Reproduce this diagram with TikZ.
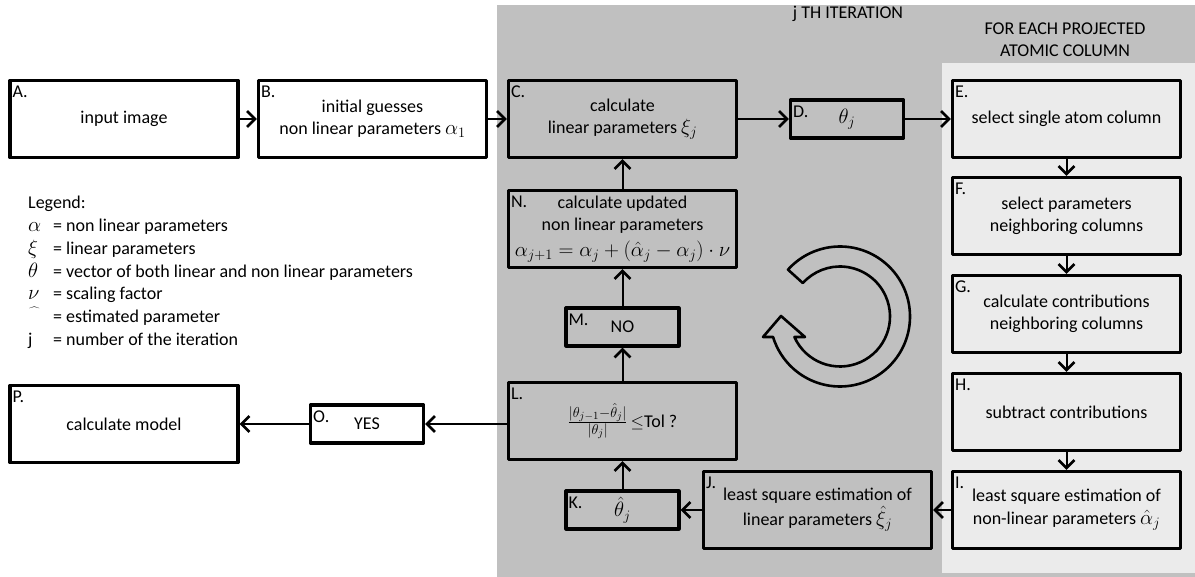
\documentclass[tikz,border=0pt]{standalone}
\usepackage{fontspec}
\setmainfont{Carlito}
\usetikzlibrary{arrows.meta}
\definecolor{panelgray}{HTML}{C0C0C0}
\definecolor{panellight}{HTML}{EBEBEB}
\newcommand{\legsym}[1]{\makebox[25pt][l]{#1}}
\newcommand{\mth}[1]{{\fontsize{19.5}{22}\selectfont$#1$}}

\begin{document}
\begin{tikzpicture}[x=1pt, y=-1pt, line join = round, line cap = round,
		font=\fontsize{18}{22}\selectfont,
		bigbox/.style={draw, line width=3.2pt, minimum width=228pt, minimum height=77pt, align=center, inner sep=0pt},
		smallbox/.style={bigbox, minimum width=113pt, minimum height=38pt},
		letter/.style={label={[anchor=north west, inner sep=0pt, xshift=4pt, yshift=-7pt]north west:#1}},
		arr/.style={line width=2pt, -{Straight Barb[length=8pt, width=16pt, line width=2.6pt]}}]
	\useasboundingbox (0,0) rectangle (1195,577);
	\fill[panelgray] (497,5) rectangle (1195,577);
	\fill[panellight] (942,63) rectangle (1195,573);
	\node (jth) at (848,14) {j TH ITERATION};
	\node[align=center] (foreach) at (1065,40) {FOR EACH PROJECTED\\ATOMIC COLUMN};
	\node[bigbox, letter=A.] (A) at (124,119) {input image};
	\node[bigbox, letter=B.] (B) at (372.5,119) {initial guesses\\non linear parameters \mth{\alpha_1}};
	\node[bigbox, letter=C.] (C) at (622.5,119) {calculate\\linear parameters \mth{\xi_j}};
	\node[smallbox, letter=D.] (D) at (847,119) {\mth{\theta_j}};
	\node[bigbox, letter=E.] (E) at (1066.5,119) {select single atom column};
	\node[bigbox, letter=F.] (F) at (1066.5,216) {select parameters\\neighboring columns};
	\node[bigbox, letter=G.] (G) at (1066.5,314) {calculate contributions\\neighboring columns};
	\node[bigbox, letter=H.] (H) at (1066.5,412) {subtract contributions};
	\node[bigbox, letter=I.] (I) at (1066.5,510) {least square estimation of\\[1pt]non-linear parameters \mth{\hat{\alpha}_j}};
	\node[bigbox, letter=J.] (J) at (817.5,510) {least square estimation of\\[1pt]linear parameters \mth{\hat{\xi}_j}};
	\node[smallbox, letter=K.] (K) at (622.5,510) {\mth{\hat{\theta}_j}};
	\node[bigbox, letter=L.] (L) at (622.5,421) {{\fontsize{22}{24}\selectfont$\frac{|\theta_{j-1}-\hat{\theta}_j|}{|\theta_j|}$}\,$\leq$Tol ?};
	\node[smallbox, letter=M.] (M) at (622.5,327) {NO};
	\node[bigbox, letter=N.] (N) at (622.5,229) {calculate updated\\non linear parameters\\[4pt]\mth{\alpha_{j+1}=\alpha_j+\big(\hat{\alpha}_j-\alpha_j\big)\cdot\nu}};
	\node[smallbox, letter=O.] (O) at (367,424) {YES};
	\node[bigbox, letter=P.] (P) at (124,424) {calculate model};
	\node[anchor=north west, align=left, inner sep=0pt, font=\fontsize{18}{22.8}\selectfont] (legend) at (28,196) {Legend:\\
		\legsym{\mth{\alpha}}= non linear parameters\\
		\legsym{\mth{\xi}}= linear parameters\\
		\legsym{\mth{\theta}}= vector of both linear and non linear parameters\\
		\legsym{\mth{\nu}}= scaling factor\\
		\legsym{\raisebox{5pt}{$\widehat{\phantom{\nu}\,}$}}= estimated parameter\\
		\legsym{j}= number of the iteration};
	\draw[arr] (A) -- (B);
	\draw[arr] (B) -- (C);
	\draw[arr] (C) -- (D);
	\draw[arr] (D) -- (E);
	\draw[arr] (E) -- (F);
	\draw[arr] (F) -- (G);
	\draw[arr] (G) -- (H);
	\draw[arr] (H) -- (I);
	\draw[arr] (I) -- (J);
	\draw[arr] (J) -- (K);
	\draw[arr] (K) -- (L);
	\draw[arr] (L) -- (M);
	\draw[arr] (M) -- (N);
	\draw[arr] (N) -- (C);
	\draw[arr] (L.west |- O) -- (O);
	\draw[arr] (O) -- (P);
	\draw[line width=2.6pt] (840,316.5) ++(138:70pt) arc[start angle=138, end angle=-163, radius=70pt] -- (763,337) -- (781,316) -- (805,337) -- (794.4,337) arc[start angle=-155.8, end angle=138, radius=50pt] -- cycle;
\end{tikzpicture}
\end{document}
